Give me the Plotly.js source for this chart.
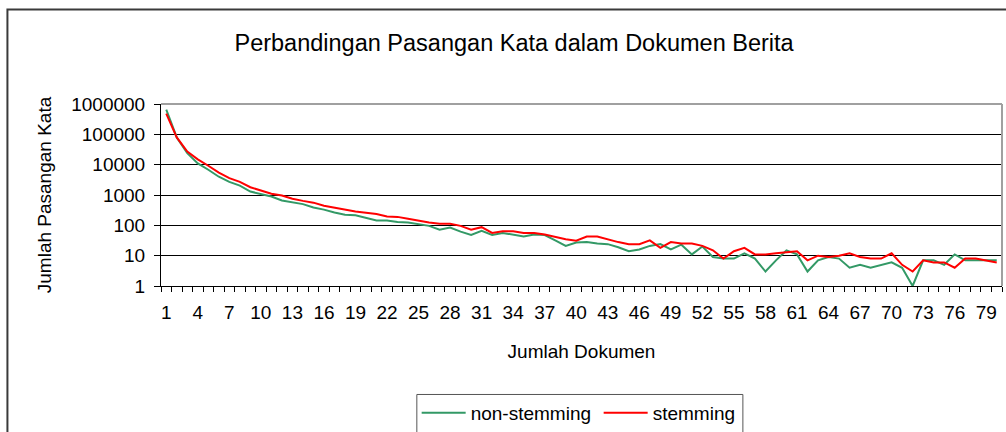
<!DOCTYPE html>
<html>
<head>
<meta charset="utf-8">
<script src="https://cdn.plot.ly/plotly-3.0.1.min.js"></script>
<style>html,body{margin:0;padding:0;background:#fff;}#chart{width:1006px;height:432px;}</style>
</head>
<body>
<div id="chart"></div>
<script>
// Data
var dokumen = [];
for (var i = 1; i <= 80; i++) dokumen.push(i);
var nonStemming = [650000, 79000, 24000, 11000, 6800, 4000, 2700, 2050, 1300, 1100,
  890, 660, 580, 500, 385, 330, 265, 225, 215, 180,
  145, 145, 130, 125, 110, 96, 72, 84, 62, 48,
  66, 48, 56, 50, 43, 50, 48, 32, 21, 27,
  28, 25, 24, 19, 14, 16, 21, 24, 16, 23,
  11, 20, 9, 8, 8, 12, 8, 3, 7, 15,
  11, 3, 7, 9, 8, 4, 5, 4, 5, 6,
  4, 1, 7, 7, 5, 11, 7, 7, 7, 7];
var stemming = [480000, 79000, 27000, 15000, 9200, 5500, 3600, 2700, 1800, 1400,
  1100, 960, 750, 640, 560, 440, 380, 330, 285, 260,
  235, 195, 190, 165, 140, 125, 112, 112, 96, 72,
  87, 56, 64, 64, 56, 56, 50, 41, 35, 31,
  43, 43, 34, 28, 24, 24, 32, 18, 28, 25,
  25, 21, 15, 8, 14, 18, 11, 11, 12, 13,
  14, 7, 10, 9, 10, 12, 9, 8, 8, 12,
  5, 3, 7, 6, 6, 4, 8, 8, 7, 6];
var xTickVals = [1, 4, 7, 10, 13, 16, 19, 22, 25, 28, 31, 34, 37, 40, 43, 46, 49, 52, 55, 58, 61, 64, 67, 70, 73, 76, 79];
var yTickVals = [1, 10, 100, 1000, 10000, 100000, 1000000];
var yTickText = ['1', '10', '100', '1000', '10000', '100000', '1000000'];

var FONT = '"Liberation Sans", Arial, sans-serif';

var traces = [
  {x: dokumen, y: nonStemming, type: 'scatter', mode: 'lines', name: 'non-stemming',
   line: {color: '#339966', width: 2}},
  {x: dokumen, y: stemming, type: 'scatter', mode: 'lines', name: 'stemming',
   line: {color: '#ff0000', width: 2}}
];

var layout = {
  width: 1006, height: 432,
  margin: {l: 161, r: 4.3, t: 104.3, b: 146, autoexpand: false},
  paper_bgcolor: '#ffffff', plot_bgcolor: '#ffffff',
  font: {family: FONT, size: 19, color: '#000'},
  title: {text: 'Perbandingan Pasangan Kata dalam Dokumen Berita',
    font: {family: FONT, size: 23.5, color: '#000'},
    x: 0.511, xanchor: 'center', y: 0.9, yanchor: 'middle', xref: 'container', yref: 'container'},
  xaxis: {
    type: 'linear', range: [0.5, 80.5], fixedrange: true,
    tickmode: 'array', tickvals: xTickVals, ticktext: xTickVals.map(String),
    ticks: '', showgrid: false, zeroline: false,
    showline: true, linecolor: '#000', linewidth: 1,
    tickfont: {family: FONT, size: 19, color: '#000'},
    ticklabelstandoff: 9,
    minor: {ticks: 'outside', ticklen: 5, tickcolor: '#000', tickwidth: 1, tick0: 0.5, dtick: 1, showgrid: false},
    title: {text: 'Jumlah Dokumen', font: {family: FONT, size: 19, color: '#000'}, standoff: 22}
  },
  yaxis: {
    type: 'log', range: [0, 6], fixedrange: true,
    tickmode: 'array', tickvals: yTickVals, ticktext: yTickText,
    ticks: 'outside', ticklen: 6, tickcolor: '#000', tickwidth: 1,
    showgrid: true, gridcolor: '#000', gridwidth: 1, zeroline: false,
    showline: true, linecolor: '#000', linewidth: 1,
    tickfont: {family: FONT, size: 19, color: '#000'},
    ticklabelstandoff: 5,
    title: {text: 'Jumlah Pasangan Kata', font: {family: FONT, size: 19, color: '#000'}, standoff: 14}
  },
  showlegend: true,
  legend: {
    orientation: 'h', x: 0.304, xanchor: 'left', y: -0.5925, yanchor: 'top',
    bgcolor: 'rgba(0,0,0,0)', borderwidth: 0,
    font: {family: FONT, size: 19, color: '#000'},
    itemwidth: 44,
    entrywidth: 123, entrywidthmode: 'pixels'
  },
  shapes: [
    // outer chart frame
    {type: 'rect', xref: 'paper', yref: 'paper', x0: -0.1826, x1: 1.2, y0: 1.519, y1: -1.2,
     line: {color: '#3a3a3a', width: 2}, fillcolor: 'rgba(0,0,0,0)', layer: 'above'},
    // plot area top and right border (gray)
    {type: 'line', xref: 'paper', yref: 'paper', x0: 0, x1: 1, y0: 1, y1: 1,
     line: {color: '#a0a0a0', width: 2}, layer: 'above'},
    {type: 'line', xref: 'paper', yref: 'paper', x0: 1, x1: 1, y0: 0, y1: 1,
     line: {color: '#a0a0a0', width: 2}, layer: 'above'},
    // legend box
    {type: 'rect', xref: 'paper', yref: 'paper', x0: 0.3042, x1: 0.6919, y0: -0.596, y1: -0.95,
     line: {color: '#555', width: 1}, fillcolor: 'rgba(0,0,0,0)', layer: 'above'}
  ]
};

Plotly.newPlot('chart', traces, layout, {displayModeBar: false, staticPlot: true});
</script>
</body>
</html>
